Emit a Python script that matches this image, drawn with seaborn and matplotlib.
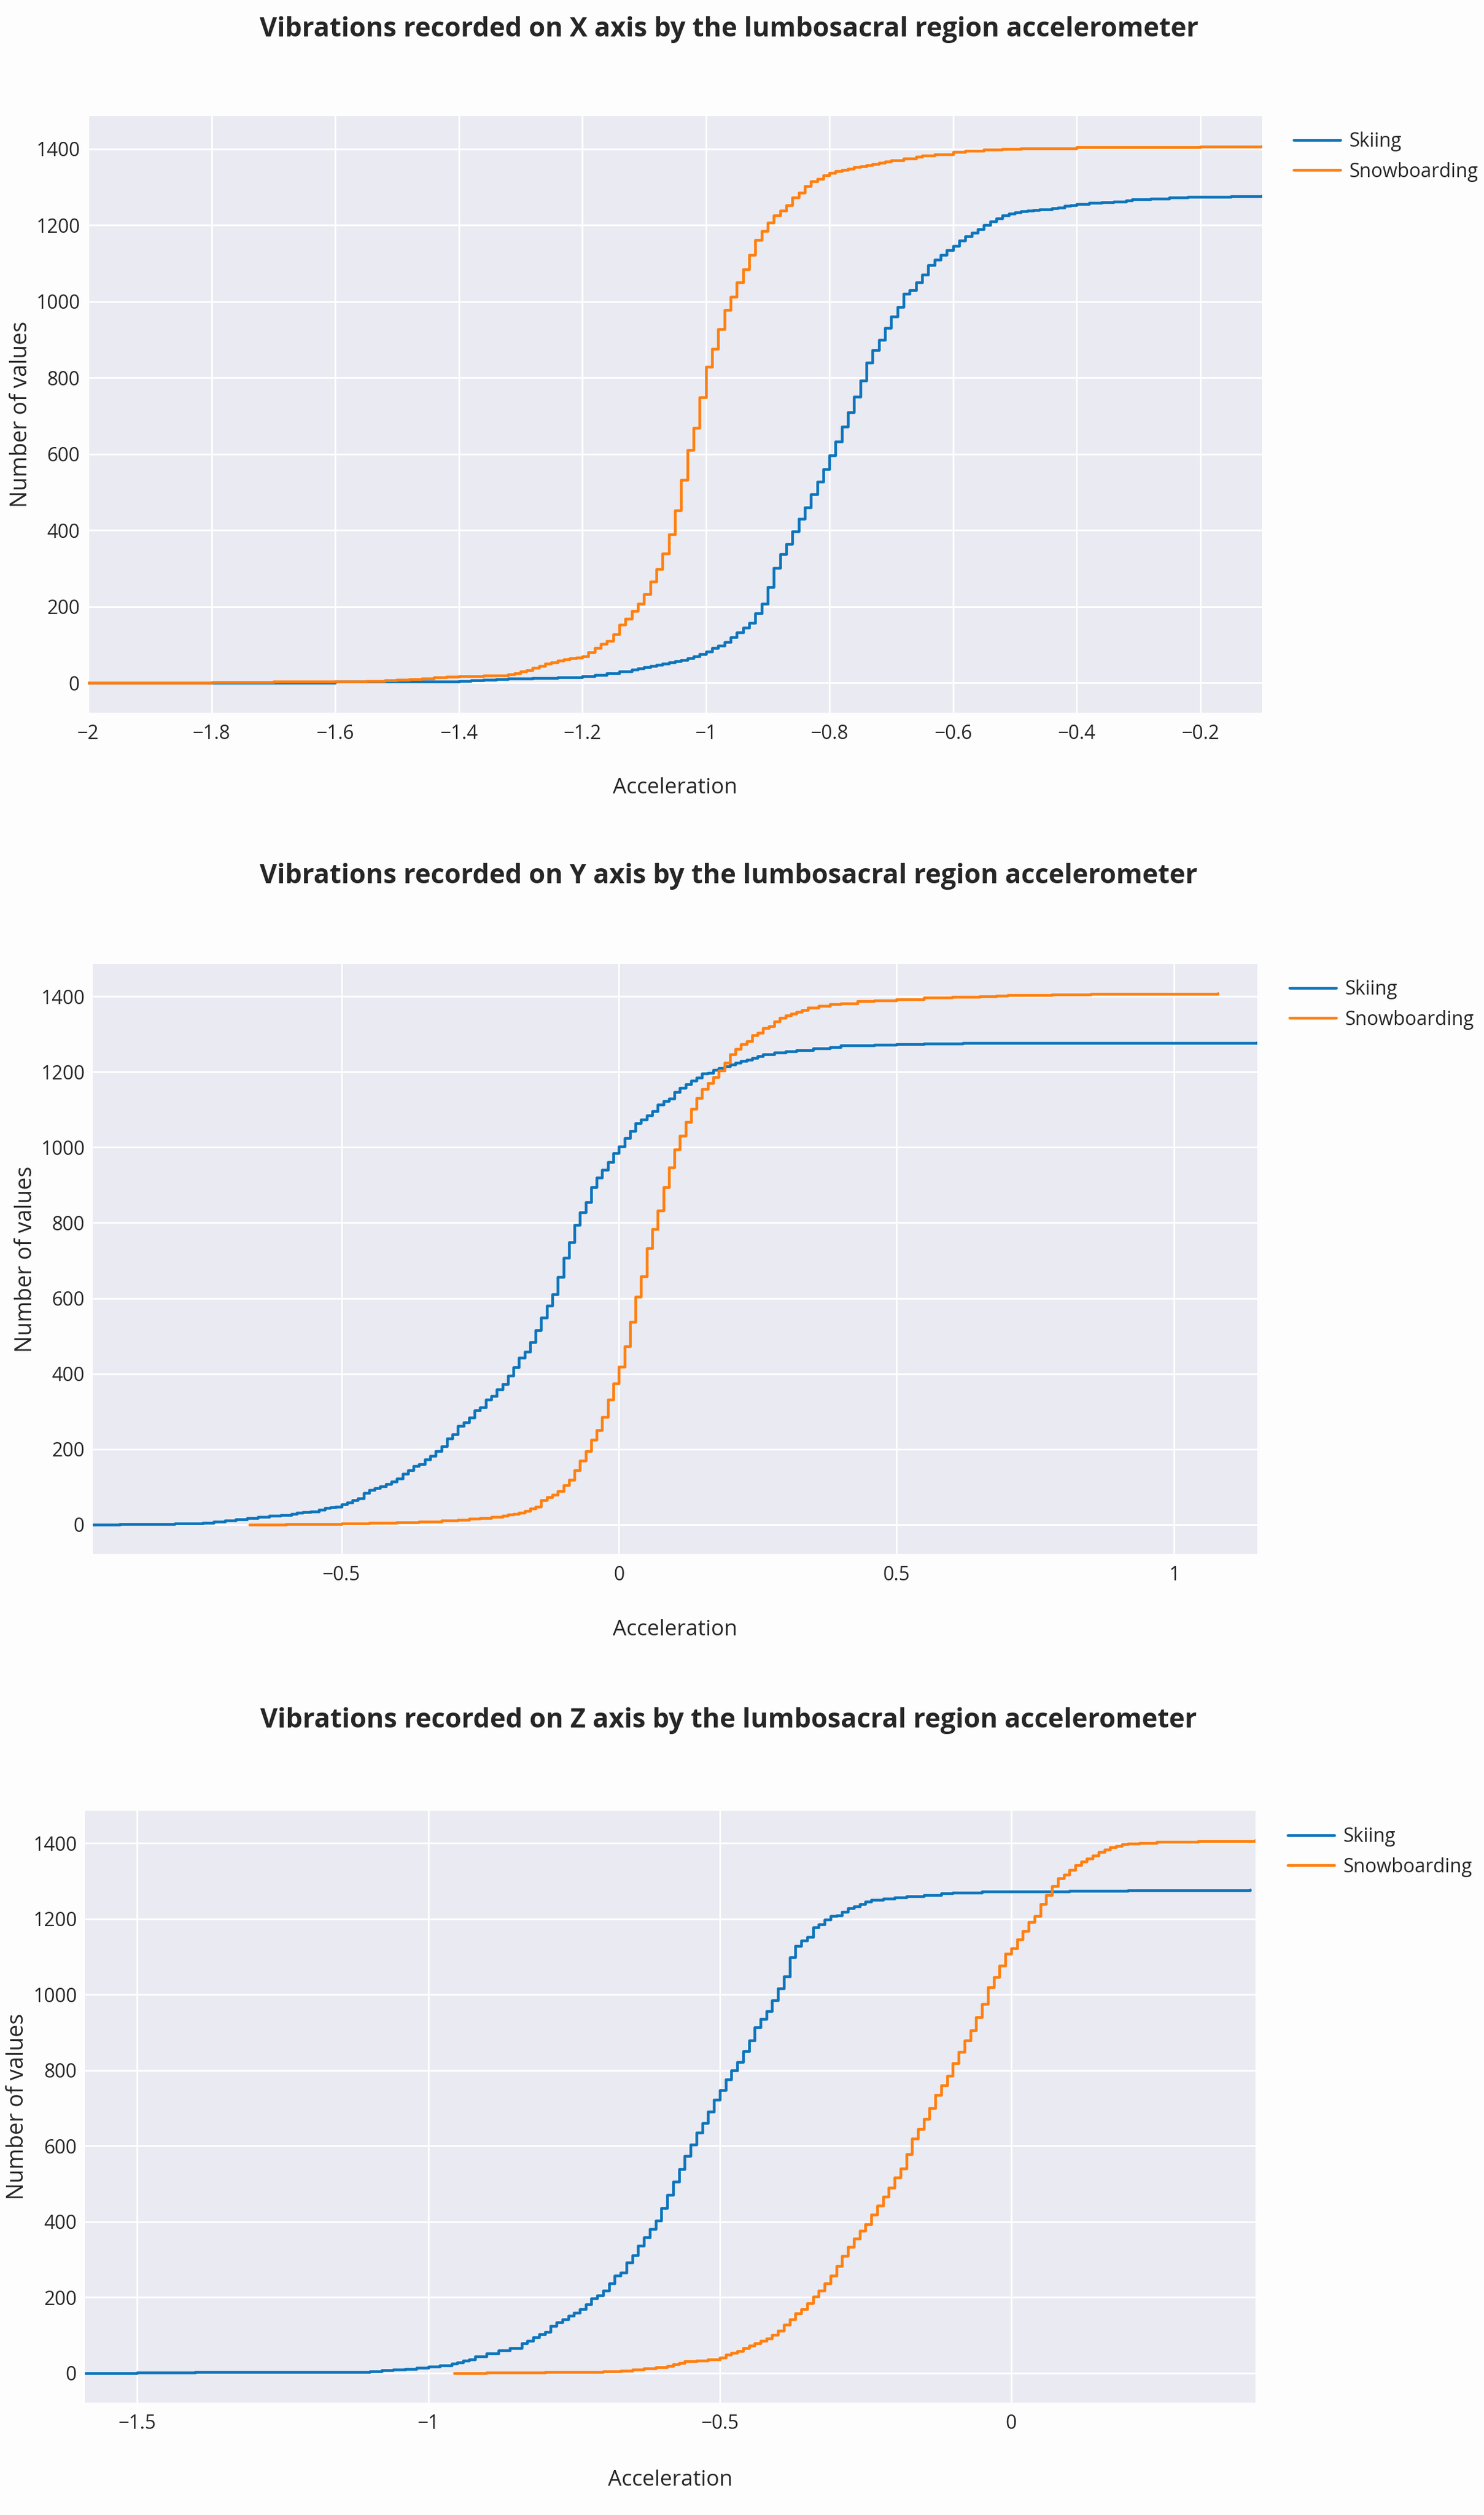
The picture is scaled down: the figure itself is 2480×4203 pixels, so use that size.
import numpy as np
import pandas as pd
import matplotlib
matplotlib.use("Agg")
import matplotlib.pyplot as plt
from matplotlib.lines import Line2D
from matplotlib.ticker import FuncFormatter, FixedLocator
import seaborn as sns

# ---------------- data (cumulative number of values) -------------
sports = ["Skiing", "Snowboarding"]

# X axis
x_ski_X = [-2.0, -1.8, -1.6, -1.5, -1.4, -1.38, -1.36, -1.34, -1.32, -1.28, -1.24, -1.22,
           -1.20, -1.18, -1.16, -1.14, -1.12, -1.11, -1.10, -1.09, -1.08, -1.07, -1.06,
           -1.05, -1.04, -1.03, -1.02, -1.01,
           -1.00, -0.99, -0.98, -0.97, -0.96, -0.95, -0.94, -0.93, -0.92, -0.91, -0.90,
           -0.89, -0.88, -0.87, -0.86, -0.85, -0.84, -0.83, -0.82, -0.81, -0.80, -0.79,
           -0.78, -0.77, -0.76, -0.75, -0.74, -0.73, -0.72, -0.71, -0.70, -0.69, -0.68,
           -0.67, -0.66, -0.65, -0.64, -0.63, -0.62, -0.61, -0.60, -0.59, -0.58, -0.57,
           -0.56, -0.55, -0.54, -0.53, -0.52, -0.51, -0.50, -0.49, -0.48, -0.47, -0.46,
           -0.44, -0.43, -0.42, -0.41, -0.40, -0.38, -0.36, -0.34, -0.32, -0.31, -0.28,
           -0.25, -0.22, -0.20, -0.15, -0.10]
n_ski_X = [0, 1, 3, 4, 5, 6, 8, 10, 12, 13, 14, 15,
           17, 21, 25, 30, 35, 38, 41, 44, 47, 50, 53,
           57, 60, 65, 70, 75,
           82, 92, 97, 107, 120, 132, 145, 157, 182, 207, 252,
           302, 337, 365, 397, 430, 460, 495, 528, 560, 597, 632,
           672, 710, 750, 793, 840, 872, 900, 930, 960, 985, 1020,
           1030, 1050, 1070, 1095, 1110, 1122, 1135, 1145, 1160, 1170, 1180,
           1190, 1200, 1210, 1217, 1225, 1230, 1234, 1236, 1238, 1240, 1242,
           1244, 1246, 1250, 1253, 1255, 1258, 1260, 1262, 1265, 1268, 1270,
           1272, 1274, 1275, 1276, 1277]

x_snow_X = [-2.0, -1.9, -1.8, -1.7, -1.6, -1.55, -1.52, -1.50, -1.48, -1.46, -1.44, -1.42,
            -1.40, -1.38, -1.36, -1.34, -1.32, -1.31, -1.30, -1.29, -1.28,
            -1.27, -1.26, -1.25, -1.24, -1.23, -1.22, -1.21, -1.20, -1.19, -1.18, -1.17,
            -1.16, -1.15, -1.14, -1.13, -1.12, -1.11, -1.10, -1.09, -1.08, -1.07, -1.06,
            -1.05, -1.04, -1.03, -1.02, -1.01, -1.00, -0.99, -0.98, -0.97, -0.96, -0.95,
            -0.94, -0.93, -0.92, -0.91, -0.90, -0.89, -0.88, -0.87, -0.86, -0.85, -0.84,
            -0.83, -0.82, -0.81, -0.80, -0.79, -0.78, -0.77, -0.76, -0.75, -0.74, -0.73,
            -0.72, -0.71, -0.70, -0.68, -0.66, -0.65, -0.63, -0.60, -0.58, -0.55, -0.52,
            -0.49, -0.40, -0.30, -0.20, -0.10]
n_snow_X = [0, 1, 2, 3, 4, 5, 6, 8, 10, 12, 14, 16,
            17, 18, 19, 20, 22, 26, 30, 34, 40,
            44, 50, 54, 58, 62, 64, 67, 70, 80, 92, 102,
            110, 128, 152, 168, 188, 207, 232, 265, 298, 340, 390,
            452, 533, 610, 668, 748, 828, 875, 927, 977, 1012, 1050,
            1085, 1122, 1162, 1185, 1207, 1225, 1238, 1252, 1272, 1285, 1302,
            1315, 1322, 1330, 1337, 1342, 1345, 1348, 1352, 1354, 1357, 1360,
            1363, 1367, 1370, 1375, 1380, 1382, 1386, 1392, 1395, 1398, 1400,
            1402, 1404, 1405, 1406, 1408]

# Y axis
x_ski_Y = [-0.948, -0.90, -0.85, -0.80, -0.75, -0.73, -0.71, -0.69, -0.67, -0.65, -0.63,
           -0.61, -0.59, -0.58, -0.57, -0.556, -0.54, -0.53, -0.52, -0.51, -0.50, -0.49,
           -0.48, -0.47, -0.46, -0.45, -0.44, -0.43, -0.42, -0.41, -0.40, -0.39, -0.38,
           -0.37, -0.36, -0.35, -0.34, -0.33, -0.32, -0.31, -0.30, -0.29, -0.28, -0.27,
           -0.26, -0.25, -0.24, -0.23, -0.22, -0.21, -0.20, -0.19, -0.18, -0.17, -0.16,
           -0.15, -0.14, -0.13, -0.12, -0.11, -0.10, -0.09, -0.08, -0.07, -0.06, -0.05,
           -0.04, -0.03, -0.02, -0.01, 0.00, 0.01, 0.02, 0.03, 0.04, 0.05, 0.06, 0.07,
           0.08, 0.09, 0.10, 0.11, 0.12, 0.13, 0.14, 0.15, 0.16, 0.17, 0.18, 0.19, 0.20,
           0.21, 0.22, 0.23, 0.24, 0.25, 0.26, 0.28, 0.30, 0.32, 0.35, 0.38, 0.40, 0.46,
           0.50, 0.55, 0.62, 0.70, 0.90, 1.15]
n_ski_Y = [0, 1, 2, 3, 5, 8, 11, 14, 17, 20, 23,
           25, 28, 32, 33, 35, 40, 44, 46, 48, 53, 59,
           64, 70, 84, 92, 96, 101, 108, 114, 122, 134, 144,
           155, 160, 172, 182, 195, 208, 228, 240, 261, 271, 284,
           303, 311, 331, 341, 359, 372, 395, 417, 442, 458, 483,
           515, 548, 581, 611, 657, 707, 748, 795, 827, 855, 894,
           920, 940, 961, 985, 1003, 1025, 1043, 1064, 1074, 1084, 1096, 1114,
           1122, 1129, 1146, 1157, 1167, 1177, 1185, 1195, 1198, 1205, 1210, 1215, 1219,
           1225, 1229, 1232, 1237, 1242, 1247, 1251, 1255, 1258, 1262, 1266, 1270, 1272,
           1273, 1275, 1276, 1277, 1277, 1278]

x_snow_Y = [-0.665, -0.60, -0.556, -0.50, -0.45, -0.40, -0.36, -0.32, -0.29, -0.27, -0.25,
            -0.23, -0.21, -0.20, -0.19, -0.18, -0.17, -0.16, -0.15, -0.14, -0.13,
            -0.12, -0.11, -0.10, -0.09, -0.08, -0.07, -0.06, -0.05, -0.04, -0.03, -0.02,
            -0.01, 0.00, 0.01, 0.02, 0.03, 0.04, 0.05, 0.06, 0.07, 0.08, 0.09, 0.10, 0.11,
            0.12, 0.13, 0.14, 0.15, 0.16, 0.17, 0.18, 0.19, 0.20, 0.21, 0.22, 0.23, 0.24,
            0.25, 0.26, 0.27, 0.28, 0.29, 0.30, 0.31, 0.32, 0.33, 0.34, 0.36, 0.38, 0.40,
            0.43, 0.46, 0.50, 0.55, 0.60, 0.65, 0.68, 0.70, 0.78, 0.85, 0.95, 1.079]
n_snow_Y = [0, 1, 2, 3, 4, 6, 8, 11, 13, 15, 17,
            20, 24, 26, 28, 32, 36, 43, 48, 64, 72,
            79, 89, 104, 119, 144, 170, 195, 225, 251, 286, 331,
            374, 419, 473, 538, 604, 658, 733, 784, 832, 895, 947, 995, 1030,
            1067, 1102, 1131, 1154, 1171, 1187, 1204, 1225, 1246, 1261, 1273, 1281, 1298,
            1303, 1316, 1321, 1334, 1344, 1349, 1354, 1359, 1364, 1371, 1375, 1379, 1382,
            1387, 1390, 1393, 1397, 1399, 1400, 1402, 1404, 1405, 1406, 1407, 1408]

# Z axis
x_ski_Z = [-1.589, -1.5, -1.4, -1.3, -1.2, -1.12, -1.10, -1.08, -1.06, -1.04, -1.02,
           -1.00, -0.98, -0.96, -0.95, -0.94, -0.93, -0.92, -0.90, -0.88, -0.86,
           -0.84, -0.83, -0.82, -0.81, -0.80, -0.79, -0.78, -0.77, -0.76, -0.75, -0.74,
           -0.73, -0.72, -0.71, -0.70, -0.69, -0.68, -0.67, -0.66, -0.65, -0.64, -0.63,
           -0.62, -0.61, -0.60, -0.59, -0.58, -0.57, -0.56, -0.55, -0.54, -0.53, -0.52,
           -0.51, -0.50, -0.49, -0.48, -0.47, -0.46, -0.45, -0.44, -0.43, -0.42, -0.41,
           -0.40, -0.39, -0.38, -0.37, -0.36, -0.35, -0.34, -0.33, -0.32, -0.31, -0.30,
           -0.29, -0.28, -0.27, -0.26, -0.25, -0.24, -0.22, -0.20, -0.18, -0.15, -0.12,
           -0.10, -0.05, 0.00, 0.10, 0.20, 0.30, 0.41]
n_ski_Z = [0, 1, 2, 2, 3, 3, 5, 7, 9, 11, 14,
           17, 20, 25, 28, 32, 36, 43, 51, 60, 66,
           78, 85, 95, 103, 109, 124, 134, 142, 152, 160, 169,
           182, 197, 205, 217, 237, 257, 265, 292, 311, 336, 359,
           381, 403, 436, 471, 506, 538, 573, 603, 635, 660, 690,
           722, 748, 776, 799, 822, 851, 879, 914, 936, 956, 984,
           1016, 1048, 1098, 1128, 1143, 1153, 1178, 1185, 1198, 1208, 1210,
           1218, 1228, 1233, 1240, 1245, 1250, 1253, 1256, 1260, 1263, 1267,
           1269, 1272, 1273, 1274, 1275, 1276, 1278]

x_snow_Z = [-0.956, -0.90, -0.80, -0.70, -0.67, -0.65, -0.63, -0.61, -0.60, -0.59, -0.58,
            -0.57, -0.56, -0.54, -0.52, -0.50, -0.49, -0.48, -0.47, -0.46, -0.45,
            -0.44, -0.43, -0.42, -0.41, -0.40, -0.39, -0.38, -0.37, -0.36, -0.35, -0.34,
            -0.33, -0.32, -0.31, -0.30, -0.29, -0.28, -0.27, -0.26, -0.25, -0.24, -0.23,
            -0.22, -0.21, -0.20, -0.19, -0.18, -0.17, -0.16, -0.15, -0.14, -0.13, -0.12,
            -0.11, -0.10, -0.09, -0.08, -0.07, -0.06, -0.05, -0.04, -0.03, -0.02, -0.01,
            0.00, 0.01, 0.02, 0.03, 0.04, 0.05, 0.06, 0.07, 0.08, 0.09, 0.10, 0.11, 0.12,
            0.13, 0.14, 0.15, 0.16, 0.17, 0.18, 0.19, 0.20, 0.22, 0.25, 0.28, 0.32, 0.36,
            0.419]
n_snow_Z = [0, 1, 2, 4, 6, 9, 12, 15, 16, 19, 23,
            27, 31, 33, 36, 40, 48, 53, 58, 66, 73,
            78, 85, 91, 100, 112, 127, 142, 157, 169, 184, 202,
            217, 237, 257, 282, 309, 333, 356, 376, 393, 418, 443,
            466, 490, 516, 540, 578, 620, 645, 672, 700, 735, 760,
            785, 819, 849, 878, 906, 940, 975, 1020, 1046, 1076, 1108,
            1123, 1146, 1168, 1192, 1208, 1240, 1263, 1286, 1307, 1317, 1329, 1342, 1352,
            1359, 1367, 1377, 1384, 1389, 1393, 1397, 1399, 1401, 1403, 1404, 1405, 1406,
            1408]

axis_names = ["X", "Y", "Z"]
y_ticks = [0, 200, 400, 600, 800, 1000, 1200, 1400]
x_ticks_X = [-2, -1.8, -1.6, -1.4, -1.2, -1, -0.8, -0.6, -0.4, -0.2]
x_ticks_Y = [-0.5, 0, 0.5, 1]
x_ticks_Z = [-1.5, -1, -0.5, 0]

# ---------------- layout ----------------
W, H = 2480, 4203
sns.set_theme(style="darkgrid")
plt.rcParams["font.family"] = ["Open Sans", "DejaVu Sans"]
TXT = "#262626"
colors = {"Skiing": "#0C74BB", "Snowboarding": "#FF7F0E"}
LW = 3.3

fig = plt.figure(figsize=(W / 100, H / 100), dpi=100, facecolor="#fdfdfd")

def fx(px):
    return px / W

def fy(py):
    return 1 - py / H

panels = [
    dict(name="X", xs=(x_ski_X, x_snow_X), ns=(n_ski_X, n_snow_X), ticks=x_ticks_X,
         box=(147, 194, 2109, 1191), xlim=(-2.0, -0.1), title_y=49, xlabel_y=1317,
         ylabel_x=35, leg=(2162, 242)),
    dict(name="Y", xs=(x_ski_Y, x_snow_Y), ns=(n_ski_Y, n_snow_Y), ticks=x_ticks_Y,
         box=(155, 1611, 2101, 2597), xlim=(-0.948, 1.15), title_y=1465, xlabel_y=2724,
         ylabel_x=43, leg=(2155, 1659)),
    dict(name="Z", xs=(x_ski_Z, x_snow_Z), ns=(n_ski_Z, n_snow_Z), ticks=x_ticks_Z,
         box=(142, 3026, 2098, 4015), xlim=(-1.589, 0.419), title_y=2876, xlabel_y=4145,
         ylabel_x=29, leg=(2152, 3075)),
]

fmt = FuncFormatter(lambda v, p: f"{v:g}".replace("-", "\u2212"))

for p in panels:
    l, t, r, b = p["box"]
    ax = fig.add_axes([fx(l), fy(b), (r - l) / W, (b - t) / H])
    ax.set_facecolor("#EAEAF2")
    frames = []
    for sport, xv, nv in zip(sports, p["xs"], p["ns"]):
        frames.append(pd.DataFrame({"Acceleration": xv, "Count": nv, "Sport": sport}))
    df = pd.concat(frames, ignore_index=True)
    sns.lineplot(data=df, x="Acceleration", y="Count", hue="Sport", hue_order=sports,
                 palette=colors, estimator=None, sort=False, drawstyle="steps-post",
                 linewidth=LW, legend=False, ax=ax)
    ax.set_xlim(*p["xlim"])
    ax.set_ylim(-78, 1486)
    ax.xaxis.set_major_locator(FixedLocator(p["ticks"]))
    ax.yaxis.set_major_locator(FixedLocator(y_ticks))
    ax.xaxis.set_major_formatter(fmt)
    ax.yaxis.set_major_formatter(fmt)
    ax.grid(True, color="white", linewidth=2.0)
    ax.tick_params(axis="both", length=0, labelsize=23, colors=TXT)
    ax.tick_params(axis="x", pad=14)
    ax.tick_params(axis="y", pad=10)
    ax.set_xlabel("")
    ax.set_ylabel("")
    for s in ax.spines.values():
        s.set_visible(False)

    fig.text(fx(1218), fy(p["title_y"]),
             f"Vibrations recorded on {p['name']} axis by the lumbosacral region accelerometer",
             ha="center", va="center", fontsize=32, fontweight="bold", color=TXT)
    fig.text(fx((l + r) / 2), fy(p["xlabel_y"]), "Acceleration", ha="center", va="center",
             fontsize=26, color=TXT)
    fig.text(fx(p["ylabel_x"]), fy((t + b) / 2), "Number of values", rotation=90,
             ha="center", va="center", fontsize=27, color=TXT)

    handles = [Line2D([], [], color=colors[s], linewidth=LW) for s in sports]
    lx, ly = p["leg"]
    fig.legend(handles, sports, loc="upper left",
               bbox_to_anchor=(fx(lx), fy(ly - 22)), bbox_transform=fig.transFigure,
               frameon=False, fontsize=23, handlelength=2.45, handletextpad=0.45,
               labelspacing=0.55, borderpad=0, borderaxespad=0, labelcolor=TXT)

fig.savefig("out.png", dpi=100, facecolor=fig.get_facecolor())
